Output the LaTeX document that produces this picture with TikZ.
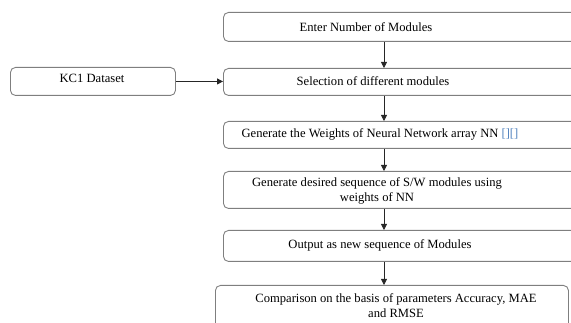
\documentclass[tikz,border=0pt]{standalone}
\usepackage{fontspec}
\setmainfont{Liberation Serif}
\usetikzlibrary{arrows.meta}
\definecolor{boxline}{HTML}{7F7F7F}
\definecolor{brk}{HTML}{4F81BD}
\tikzset{
  box/.style={draw=boxline, line width=0.9pt, rounded corners=5pt, inner sep=0pt},
  txt/.style={font=\fontsize{12.6}{15}\selectfont, align=center, inner sep=0pt},
  flow/.style={draw=black!85, line width=0.8pt, -{Triangle[length=6pt,width=6pt]}}
}
\begin{document}
\begin{tikzpicture}[x=1pt,y=-1pt]
\useasboundingbox (0,0) rectangle (571,323);
\clip (0,0) rectangle (571,323);
% boxes
\node[box, minimum width=380pt, minimum height=29pt, anchor=north west] (b1) at (223,12) {};
\node[box, minimum width=380pt, minimum height=27pt, anchor=north west] (b2) at (223,68) {};
\node[box, minimum width=165pt, minimum height=28pt, anchor=north west] (kc) at (10,67) {};
\node[box, minimum width=380pt, minimum height=27pt, anchor=north west] (b3) at (223,121) {};
\node[box, minimum width=380pt, minimum height=37pt, anchor=north west] (b4) at (223,171) {};
\node[box, minimum width=380pt, minimum height=31pt, anchor=north west] (b5) at (223,230) {};
\node[box, minimum width=353pt, minimum height=60pt, anchor=north west] (b6) at (215,285) {};
% texts
\node[txt] (t1) at (366,27) {Enter Number of Modules};
\node[txt] (t2) at (373,81.5) {Selection of different modules};
\node[txt] (tk) at (92,78) {KC1 Dataset};
\node[txt] (t3) at (380,134.5) {Generate the Weights of Neural Network array NN \textcolor{brk}{[][]}};
\node[txt] (t4) at (377,190.5) {Generate desired sequence of S/W modules using\\weights of NN};
\node[txt] (t5) at (380,245.5) {Output as new sequence of Modules};
\node[txt] (t6) at (396,306) {Comparison on the basis of parameters Accuracy, MAE\\and RMSE};
% connectors
\coordinate (ax) at (384,0);
\draw[flow] (b1.south -| ax) -- (b2.north -| ax);
\draw[flow] (b2.south -| ax) -- (b3.north -| ax);
\draw[flow] (b3.south -| ax) -- (b4.north -| ax);
\draw[flow] (b4.south -| ax) -- (b5.north -| ax);
\draw[flow] (b5.south -| ax) -- (b6.north -| ax);
\draw[flow] (kc.east) -- (b2.west |- kc.east);
\end{tikzpicture}
\end{document}
